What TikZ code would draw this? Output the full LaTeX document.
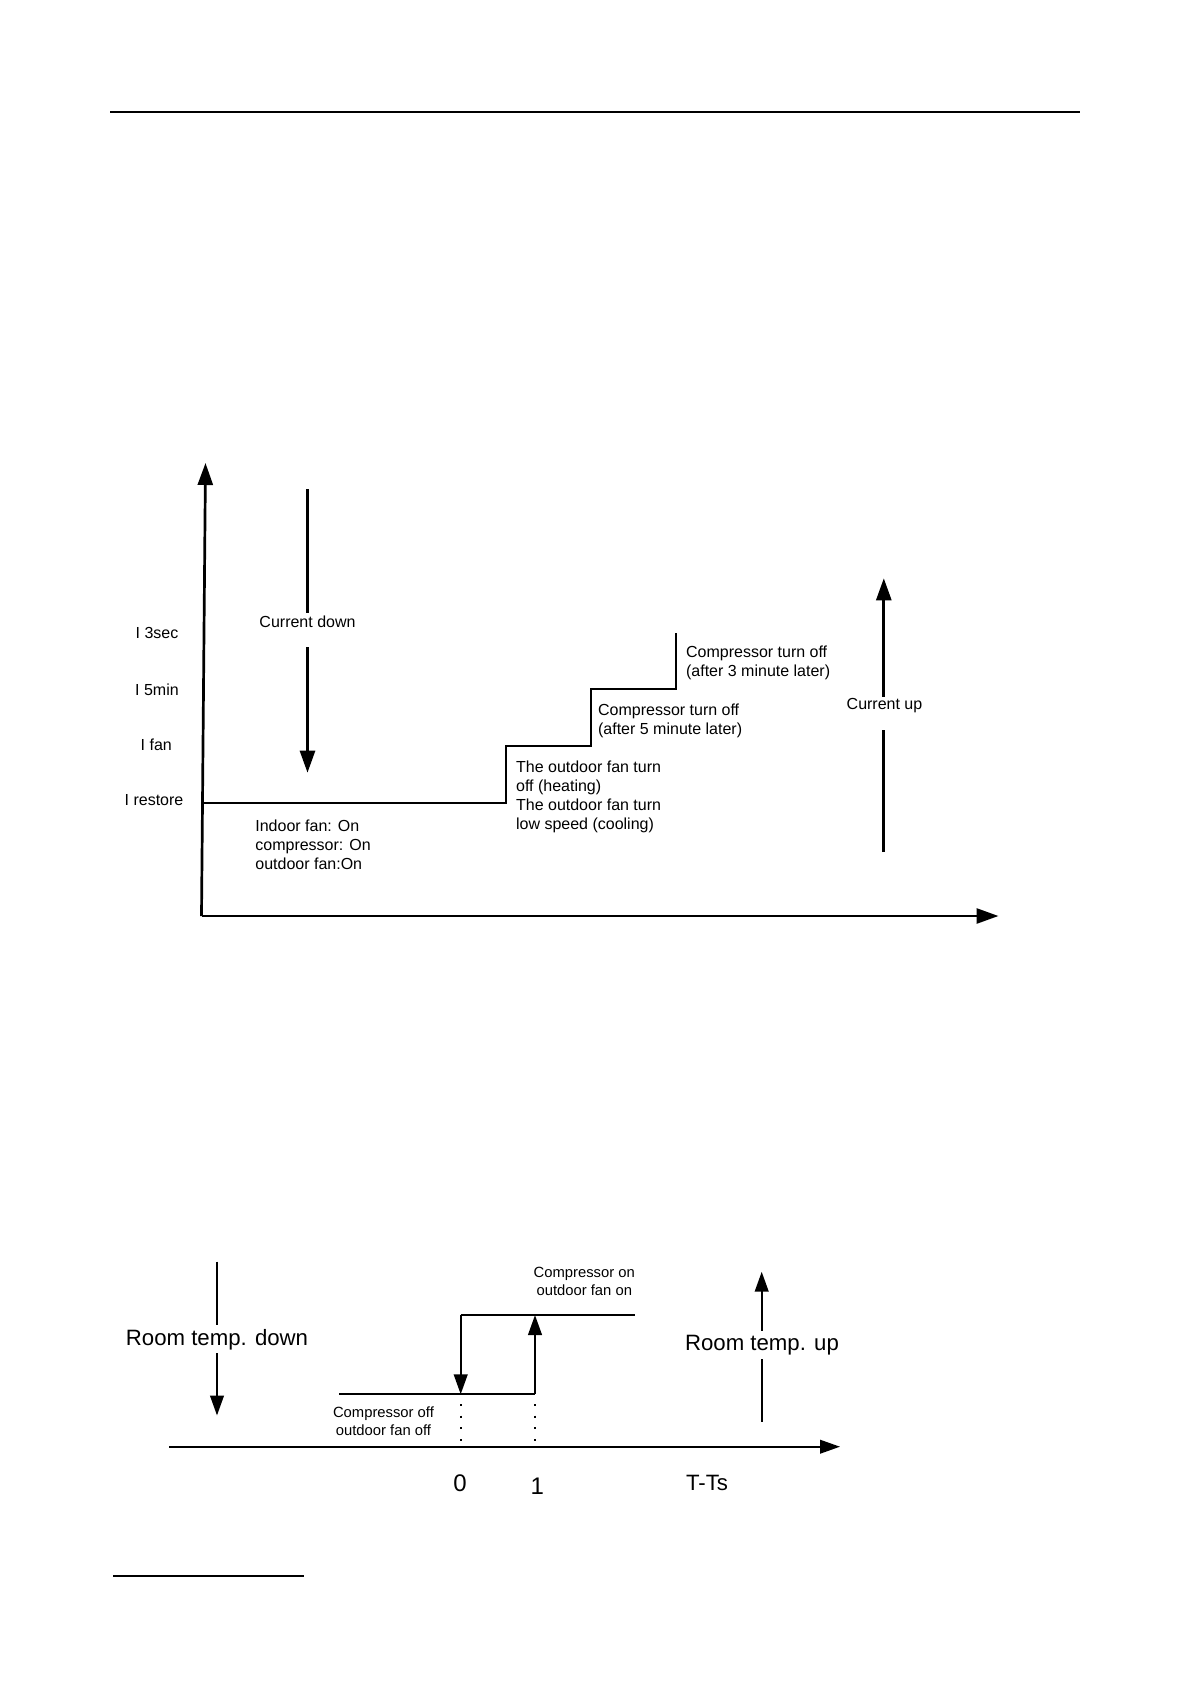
\documentclass[tikz,border=0pt]{standalone}
\usepackage{fontspec}
\setmainfont{Liberation Sans}
\usetikzlibrary{arrows.meta}
\begin{document}
\begin{tikzpicture}[x=0.5pt,y=-0.5pt,
  bigarr/.style={-{Triangle[length=11pt,width=7.5pt]}},
  smallarr/.style={-{Triangle[length=10pt,width=6.8pt]}},
  axisA/.style={line width=1.35pt},
  stepline/.style={line width=1.15pt},
  lbl/.style={font=\fontsize{8}{9.4}\selectfont, inner sep=0pt},
  mlbl/.style={lbl, align=left, anchor=north west},
  slbl/.style={font=\fontsize{7.4}{8.85}\selectfont, inner sep=0pt, align=center, anchor=north},
  blbl/.style={font=\fontsize{11.1}{13}\selectfont, inner sep=0pt},
  dots/.style={line width=0.9pt, dash pattern=on 0.9pt off 4.95pt}]
\path[use as bounding box] (0,0) rectangle (1190,1682);

% page rules
\coordinate (r1a) at (110,111.5);
\coordinate (r1b) at (1080,111.5);
\draw[line width=1pt] (r1a) -- (r1b);
\coordinate (r2a) at (113,1576);
\coordinate (r2b) at (304,1576);
\draw[line width=0.65pt] (r2a) -- (r2b);

% ---------- chart 1 ----------
\coordinate (O) at (201.5,916);
\coordinate (ytop) at (205.5,463);
\coordinate (xend) at (998.5,916);
\draw[axisA,bigarr] (O) -- (ytop);
\draw[axisA,bigarr] (O) -- (xend);

\coordinate (s0) at (203,803.3);
\coordinate (s1) at (506,803.3);
\coordinate (s2) at (506,746);
\coordinate (s3) at (591,746);
\coordinate (s4) at (591,689.3);
\coordinate (s5) at (676,689.3);
\coordinate (s6) at (676,632.7);
\draw[stepline] (s0) -- (s1) -- (s2) -- (s3) -- (s4) -- (s5) -- (s6);

\node[lbl] (l3) at (157,632.7) {I 3sec};
\node[lbl] (l5) at (157,689.3) {I 5min};
\node[lbl] (lf) at (156.3,745) {I fan};
\node[lbl] (lr) at (154,800) {I restore};

% current down
\coordinate (cd1) at (307.5,489);
\coordinate (cd2) at (307.5,613);
\node[lbl] (cdl) at (307.5,621.7) {Current down};
\coordinate (cd3) at (307.5,647);
\coordinate (cd4) at (307.5,772.7);
\draw[axisA] (cd1) -- (cd2);
\draw[axisA,bigarr] (cd3) -- (cd4);

% current up
\coordinate (cu1) at (883.8,852);
\coordinate (cu2) at (883.8,730);
\node[lbl] (cul) at (884.5,706) {Current up};
\coordinate (cu3) at (883.8,696.7);
\coordinate (cu4) at (883.8,578.3);
\draw[axisA] (cu1) -- (cu2);
\draw[axisA,bigarr] (cu3) -- (cu4);

\node[mlbl] (t1) at (255,819.7) {Indoor fan: On\\compressor: On\\outdoor fan:On};
\node[mlbl] (t2) at (515.7,760.7) {The outdoor fan turn\\off (heating)\\The outdoor fan turn\\low speed (cooling)};
\node[mlbl] (t3) at (597.7,703.7) {Compressor turn off\\(after 5 minute later)};
\node[mlbl] (t4) at (685.7,645.7) {Compressor turn off\\(after 3 minute later)};

% ---------- chart 2 ----------
\coordinate (rd1) at (217,1261.7);
\coordinate (rd2) at (217,1325);
\node[blbl] (rdl) at (217,1339.8) {Room temp. down};
\coordinate (rd3) at (217,1353.3);
\coordinate (rd4) at (217,1415.5);
\draw[stepline] (rd1) -- (rd2);
\draw[stepline,smallarr] (rd3) -- (rd4);

\coordinate (x2a) at (169,1446.7);
\coordinate (x2b) at (840,1446.7);
\draw[line width=1pt,smallarr] (x2a) -- (x2b);

\coordinate (lo1) at (339,1394.3);
\coordinate (lo2) at (460.7,1394.3);
\coordinate (lo3) at (535,1394.3);
\coordinate (hi1) at (460.7,1315);
\coordinate (hi2) at (535,1315);
\coordinate (hi3) at (635,1315);
\draw[stepline] (lo1) -- (lo3);
\draw[stepline] (hi1) -- (hi3);
\draw[stepline,smallarr] (hi1) -- (lo2);
\draw[stepline,smallarr] (lo3) -- (hi2);

\coordinate (d0a) at (460.7,1404);
\coordinate (d0b) at (460.7,1442);
\coordinate (d1a) at (535,1404);
\coordinate (d1b) at (535,1442);
\draw[dots] (d0a) -- (d0b);
\draw[dots] (d1a) -- (d1b);

\coordinate (ru1) at (761.7,1421.7);
\coordinate (ru2) at (761.7,1359.3);
\node[blbl] (rul) at (762,1345.3) {Room temp. up};
\coordinate (ru3) at (761.7,1330.7);
\coordinate (ru4) at (761.7,1271.7);
\draw[stepline] (ru1) -- (ru2);
\draw[stepline,smallarr] (ru3) -- (ru4);

\node[slbl] (con) at (584.3,1266.8) {Compressor on\\outdoor fan on};
\node[slbl] (coff) at (383.5,1406.2) {Compressor off\\outdoor fan off};

\node[font=\fontsize{12}{14}\selectfont, inner sep=0pt] (n0) at (460,1483.3) {0};
\node[font=\fontsize{12}{14}\selectfont, inner sep=0pt] (n1) at (537.3,1486) {1};
\node[blbl] (tts) at (707,1483.3) {T-Ts};
\end{tikzpicture}
\end{document}
